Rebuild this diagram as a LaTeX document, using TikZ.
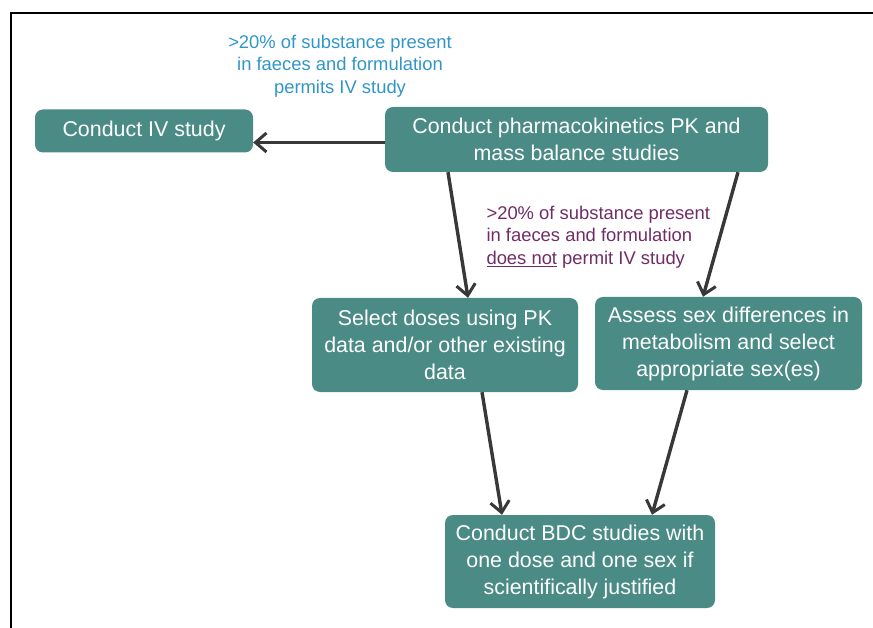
\documentclass[tikz,border=0pt]{standalone}
\usepackage{fontspec}
\setmainfont{Liberation Sans}
\usetikzlibrary{arrows.meta}
\definecolor{boxteal}{RGB}{74,139,134}
\definecolor{arrgray}{RGB}{56,56,56}
\definecolor{labblue}{RGB}{48,150,200}
\definecolor{labpurple}{RGB}{112,44,102}
\begin{document}
\begin{tikzpicture}[x=1pt,y=1pt,yscale=-1,xscale=1,
  box/.style={fill=boxteal,rounded corners=8pt,text=white,align=center,inner sep=0pt,
    font=\fontsize{21.4}{27}\selectfont},
  arr/.style={draw=arrgray,line width=3.4pt,-{Straight Barb[length=11pt,width=19pt,line width=3pt]}},
  lab/.style={font=\fontsize{18.4}{22.5}\selectfont}]
\useasboundingbox (0,0) rectangle (873,628);

%Straight Lines (frame)
\draw [line width=2.5pt] (11,628) -- (11,13) -- (873,13) ;

%Shape: Rounded Rect
\draw (144,131) node [box,minimum width=218pt,minimum height=43pt] (iv) {Conduct IV study};
%Shape: Rounded Rect
\draw (576.5,139.5) node [box,minimum width=383pt,minimum height=65pt] (pk) {Conduct pharmacokinetics PK and\\mass balance studies};
%Shape: Rounded Rect
\draw (445,345) node [box,minimum width=266pt,minimum height=94pt] (dose) {Select doses using PK\\data and/or other existing\\data};
%Shape: Rounded Rect
\draw (728.5,343.5) node [box,minimum width=267pt,minimum height=93pt] (sex) {Assess sex differences in\\metabolism and select\\appropriate sex(es)};
%Shape: Rounded Rect
\draw (580,561.5) node [box,minimum width=270pt,minimum height=93pt] (bdc) {Conduct BDC studies with\\one dose and one sex if\\scientifically justified};

%Straight Lines
\draw [arr] ([yshift=3pt]pk.west) -- ([yshift=3pt]pk.west -| iv.east) ;
%Straight Lines
\draw [arr] ([xshift=-128.5pt]pk.south) -- ([xshift=23pt]dose.north) ;
%Straight Lines
\draw [arr] ([xshift=161.5pt]pk.south) -- ([xshift=-25.5pt]sex.north) ;
%Straight Lines
\draw [arr] ([xshift=37pt]dose.south) -- ([xshift=-78pt]bdc.north) ;
%Straight Lines
\draw [arr] ([xshift=-41.5pt]sex.south) -- ([xshift=72pt]bdc.north) ;

% Text Node
\draw (340,66) node [lab,text=labblue,align=center] (ivcond) {>20\% of substance present\\in faeces and formulation\\permits IV study};
% Text Node
\draw (483,237) node [lab,text=labpurple,align=left,anchor=west] (nocond) {>20\% of substance present\\in faeces and formulation\\\underline{does not} permit IV study};

\end{tikzpicture}
\end{document}
